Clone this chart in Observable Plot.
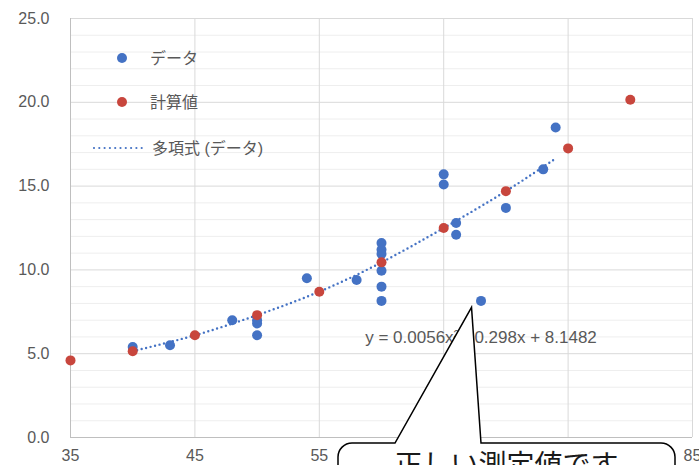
<!DOCTYPE html>
<html><head><meta charset="utf-8">
<script src="https://cdn.jsdelivr.net/npm/d3@7"></script>
<script src="https://cdn.jsdelivr.net/npm/@observablehq/plot@0.6"></script>
<style>
html,body{margin:0;padding:0;background:#fff;overflow:hidden;}
#wrap{position:relative;width:699px;height:465px;overflow:hidden;}
#overlay{position:absolute;left:0;top:0;}
</style></head><body><div id="wrap"></div>
<script>
// Blue series "データ"
const dataX = [40, 43, 48, 50, 50, 50, 54, 58, 60, 60, 60, 60, 60, 60, 65, 65, 66, 66, 68, 70, 73, 74];
const dataY = [5.4, 5.5, 7.0, 7.0, 6.8, 6.1, 9.5, 9.4, 11.6, 11.2, 10.95, 9.95, 9.0, 8.15, 15.7, 15.1, 12.8, 12.1, 8.15, 13.7, 16.0, 18.5];
// Red series "計算値"
const calcX = [35, 40, 45, 50, 55, 60, 65, 70, 75, 80];
const calcY = [4.6, 5.15, 6.1, 7.3, 8.7, 10.45, 12.5, 14.7, 17.25, 20.15];
// Dotted trend line "多項式 (データ)"
const trendX = [40, 45, 50, 55, 60, 65, 70, 74];
const trendY = [5.15, 6.1, 7.3, 8.7, 10.45, 12.5, 14.7, 16.65];
// Ticks
const xTicks = [35, 45, 55, 65, 75, 85];
const yTicks = [0, 5, 10, 15, 20, 25];
const yMinor = [1, 2, 3, 4, 6, 7, 8, 9, 11, 12, 13, 14, 16, 17, 18, 19, 21, 22, 23, 24];
const seriesNames = ["データ", "計算値", "多項式 (データ)"];
const equationText = "y = 0.0056x² - 0.298x + 8.1482";
const calloutText = "正しい測定値です";
const calloutTarget = {x: 68, y: 8.15};

const BLUE = "#4472C4", RED = "#C8463D", GRID = "#D9D9D9", MINOR = "#EEEEEE", AXIS = "#BFBFBF", TXT = "#595959";
const FONT = "'Liberation Sans', Arial, 'Noto Sans CJK JP', sans-serif";

const blue = dataX.map((x, i) => ({x, y: dataY[i]}));
const red = calcX.map((x, i) => ({x, y: calcY[i]}));
const trend = trendX.map((x, i) => ({x, y: trendY[i]}));

const plot = Plot.plot({
  width: 699, height: 465,
  marginLeft: 70, marginRight: 7, marginTop: 18, marginBottom: 28,
  x: {domain: [35, 85]},
  y: {domain: [0, 25]},
  style: {fontFamily: FONT, fontSize: "16px", color: TXT, background: "#fff"},
  marks: [
    Plot.ruleY(yMinor, {stroke: MINOR, strokeWidth: 1}),
    Plot.ruleY(yTicks, {stroke: GRID, strokeWidth: 1}),
    Plot.ruleX(xTicks.slice(1), {stroke: GRID, strokeWidth: 1}),
    Plot.ruleX([xTicks[0]], {stroke: AXIS, strokeWidth: 1}),
    Plot.ruleY([yTicks[0]], {stroke: AXIS, strokeWidth: 1}),
    Plot.axisY(yTicks, {tickSize: 0, tickPadding: 21, tickFormat: d => d.toFixed(1), fill: TXT, fontSize: 16, label: null}),
    Plot.axisX(xTicks, {tickSize: 0, tickPadding: 12, fill: TXT, fontSize: 16, label: null}),
    Plot.line(trend, {x: "x", y: "y", curve: "natural", stroke: BLUE, strokeWidth: 2.4, strokeDasharray: "0 4.6", strokeLinecap: "round"}),
    Plot.dot(blue, {x: "x", y: "y", r: 5, fill: BLUE}),
    Plot.dot(red, {x: "x", y: "y", r: 5, fill: RED}),
    Plot.text([equationText], {x: () => 68, y: () => 5.95, fontSize: 17, fill: TXT})
  ]
});
const wrap = document.getElementById("wrap");
wrap.appendChild(plot);

// Overlay: legend + callout
const sx = plot.scale("x"), sy = plot.scale("y");
const ov = d3.select(wrap).append("svg").attr("id", "overlay").attr("width", 699).attr("height", 465)
  .style("font-family", FONT);

// legend
const lg = ov.append("g");
lg.append("circle").attr("cx", 122).attr("cy", 58).attr("r", 5).attr("fill", BLUE);
lg.append("text").attr("x", 150).attr("y", 58).attr("dy", "0.35em").attr("font-size", 16).attr("fill", TXT).text(seriesNames[0]);
lg.append("circle").attr("cx", 122).attr("cy", 102).attr("r", 5).attr("fill", RED);
lg.append("text").attr("x", 150).attr("y", 102).attr("dy", "0.35em").attr("font-size", 16).attr("fill", TXT).text(seriesNames[1]);
lg.append("line").attr("x1", 94).attr("x2", 142).attr("y1", 148).attr("y2", 148)
  .attr("stroke", BLUE).attr("stroke-width", 2.2).attr("stroke-dasharray", "0 5.3").attr("stroke-linecap", "round");
lg.append("text").attr("x", 152).attr("y", 148).attr("dy", "0.35em").attr("font-size", 16).attr("fill", TXT).text(seriesNames[2]);

// callout
const tipX = sx.apply(calloutTarget.x) - 9, tipY = sy.apply(calloutTarget.y) + 7;
const L = 338, R = 675, T = 443, rr = 14, B = 520, bL = 395, bR = 481;
const d = `M${L},${B} L${L},${T + rr} A${rr},${rr} 0 0 1 ${L + rr},${T} L${bL},${T} L${tipX},${tipY} L${bR},${T} L${R - rr},${T} A${rr},${rr} 0 0 1 ${R},${T + rr} L${R},${B}`;
ov.append("path").attr("d", d).attr("fill", "#fff").attr("stroke", "#000").attr("stroke-width", 1.5).attr("stroke-linejoin", "miter");
ov.append("text").attr("x", (L + R) / 2).attr("y", 475).attr("text-anchor", "middle")
  .attr("font-size", 28).attr("fill", "#1a1a1a").attr("font-family", "'Noto Sans CJK JP', sans-serif").text(calloutText);
</script>
</body></html>
